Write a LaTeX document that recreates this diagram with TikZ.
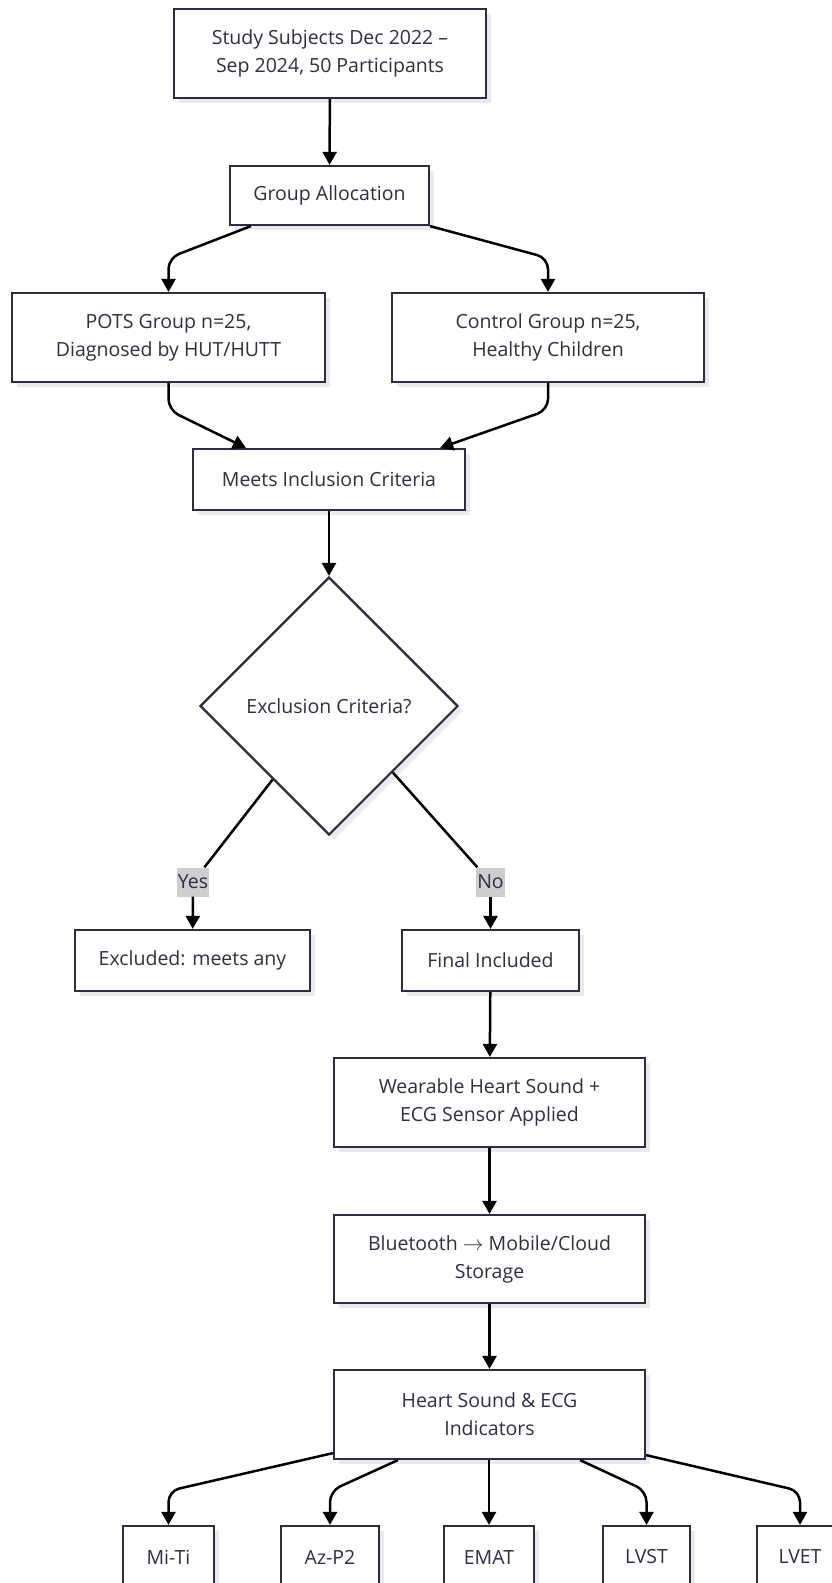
\documentclass[tikz,border=0pt]{standalone}
\usepackage{fontspec}
\setmainfont{Open Sans}
\usetikzlibrary{shapes.geometric,arrows.meta,positioning,calc,shadows}
\definecolor{boxline}{RGB}{44,44,68}
\definecolor{boxtext}{RGB}{46,46,70}
\definecolor{lblgrey}{RGB}{206,206,206}
\definecolor{shadowgrey}{RGB}{234,234,238}
\tikzset{
  stage/.style={draw=boxline, line width=2.2pt, fill=white, text=boxtext, align=center,
    inner sep=0pt, font=\fontsize{19.5}{28}\selectfont,
    drop shadow={shadow xshift=5pt, shadow yshift=-5pt, fill=shadowgrey, opacity=1}},
  answer/.style={fill=lblgrey, text=boxtext, inner xsep=1pt, inner ysep=0pt,
    minimum height=29pt, font=\fontsize{19.5}{22}\selectfont},
  link/.style={line width=2.5pt, rounded corners=11pt},
  flow/.style={link, -{Triangle[length=13pt,width=14pt]}}
}
\begin{document}
\begin{tikzpicture}[x=1pt, y=-1pt]
    \useasboundingbox (0,0) rectangle (832,1583);
    % --- top part ---
    \node[stage, minimum width=312, minimum height=89] (subj) at (330,53.5) {Study Subjects Dec 2022 –\\Sep 2024, 50 Participants};
    \node[stage, minimum width=199, minimum height=59] (alloc) at (329.5,195.5) {Group Allocation};
    \node[stage, minimum width=313, minimum height=89] (pots) at (168.5,337.5) {POTS Group n=25,\\Diagnosed by HUT/HUTT};
    \node[stage, minimum width=312, minimum height=89] (ctrl) at (548,337.5) {Control Group n=25,\\Healthy Children};
    \node[stage, minimum width=272, minimum height=61] (incl) at (329,479.5) {Meets Inclusion Criteria};
    \node[stage, diamond, aspect=1, minimum width=258, minimum height=258] (excl) at (329,706) {Exclusion Criteria?};
    \node[stage, minimum width=235, minimum height=61] (out) at (192.5,960.5) {Excluded: meets any};
    \node[stage, minimum width=177, minimum height=61] (final) at (490.5,960.5) {Final Included};
    % --- measurement chain ---
    \node[stage, minimum width=311, minimum height=89] (sensor) at (489.5,1102.5) {Wearable Heart Sound +\\ECG Sensor Applied};
    \node[stage, minimum width=311, minimum height=88] (cloud) at (489.5,1259) {Bluetooth $\rightarrow$ Mobile/Cloud\\Storage};
    \node[stage, minimum width=311, minimum height=89] (ind) at (489.5,1414.5) {Heart Sound \& ECG\\Indicators};
    \node[stage, minimum width=91, minimum height=62] (miti) at (168.5,1557) {Mi-Ti};
    \node[stage, minimum width=98, minimum height=62] (azp) at (330,1557) {Az-P2};
    \node[stage, minimum width=90, minimum height=62] (emat) at (489,1557) {EMAT};
    \node[stage, minimum width=87, minimum height=62] (lvst) at (646.5,1557) {LVST};
    \node[stage, minimum width=86, minimum height=62] (lvet) at (800,1557) {LVET};

    % --- connectors ---
    \draw[flow] (subj) -- (alloc);
    \draw[flow] ([xshift=22pt]alloc.south west) -- (pots.north |- 0,258) -- (pots.north);
    \draw[flow] (alloc.south east) -- (ctrl.north |- 0,258) -- (ctrl.north);
    \draw[flow] (pots.south) -- (pots.south |- 0,410) -- ([xshift=54pt]incl.north west);
    \draw[flow] (ctrl.south) -- (ctrl.south |- 0,410) -- ([xshift=-26pt]incl.north east);
    \draw[flow] (incl) -- (excl);
    \node[answer] (yes) at (193,882) {Yes};
    \node[answer] (no) at (490.5,882) {No};
    \draw[link] ($(excl.west)!0.566!(excl.south)$) -- (yes);
    \draw[flow] (yes) -- (out);
    \draw[link] ($(excl.east)!0.51!(excl.south)$) -- (no);
    \draw[flow] (no) -- (final);
    \draw[flow] (final) -- (sensor);
    \draw[flow] (sensor) -- (cloud);
    \draw[flow] (cloud) -- (ind);
    \draw[flow] ([yshift=7pt]ind.south west) -- (miti.north |- 0,1491) -- (miti.north);
    \draw[flow] ([xshift=65pt]ind.south west) -- (azp.north |- 0,1491) -- (azp.north);
    \draw[flow] (ind.south -| emat.north) -- (emat.north);
    \draw[flow] ([xshift=-66pt]ind.south east) -- (lvst.north |- 0,1491) -- (lvst.north);
    \draw[flow] ([yshift=5pt]ind.south east) -- (lvet.north |- 0,1491) -- (lvet.north);
\end{tikzpicture}
\end{document}
